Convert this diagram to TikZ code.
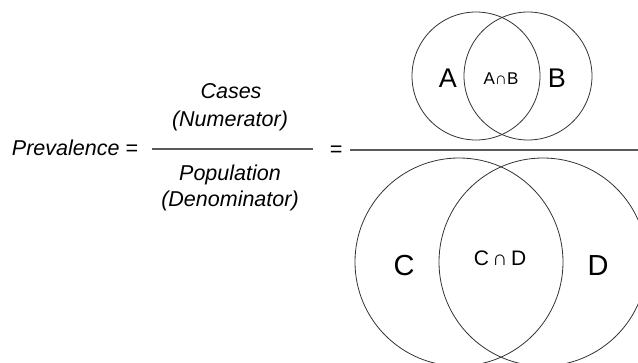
\documentclass[tikz,border=0pt]{standalone}
\usepackage{fontspec}
\setmainfont{Liberation Sans}
\usepackage{tikz}

\tikzset{
  setline/.style = {draw=black!80, line width=0.8pt},
  barline/.style = {draw=black!65, line width=1.3pt},
  formula/.style = {anchor=base, font=\fontsize{21.5}{24}\selectfont\itshape},
  biglabel/.style = {anchor=base, font=\fontsize{29}{32}\selectfont},
}

\begin{document}
\begin{tikzpicture}[x=1pt, y=-1pt]
            \useasboundingbox (0,0) rectangle (638,362);
            \clip (0,0) rectangle (638,362);

            % left fraction
            \node [formula] (prev) at (75,155) {Prevalence =};
            \node [formula] (cases) at (231,98) {Cases};
            \node [formula] (num) at (230,126) {(Numerator)};
            \node [formula] (pop) at (230,180) {Population};
            \node [formula] (den) at (230,206) {(Denominator)};
            \draw [barline] (152,149) -- (313,149);
            \node [formula] (eq) at (336,156) {=};

            % big fraction line
            \draw [barline] (350,150) -- (638,150);

            % numerator sets
            \draw [setline] (476,76) circle (64);
            \draw [setline] (528,76) circle (64);
            \node [biglabel, font=\fontsize{27}{30}\selectfont] (a) at (448,87) {A};
            \node [anchor=base, font=\fontsize{17}{20}\selectfont] (ab) at (501,84) {A∩B};
            \node [biglabel, font=\fontsize{27}{30}\selectfont] (b) at (557,87) {B};

            % denominator sets
            \draw [setline] (459,262) circle (104);
            \draw [setline] (543,262) circle (104);
            \node [biglabel] (c) at (404,275) {C};
            \node [anchor=base, font=\fontsize{21}{24}\selectfont] (cd) at (500,265) {C\,∩\,D};
            \node [biglabel] (d) at (598,275) {D};
        \end{tikzpicture}
\end{document}
